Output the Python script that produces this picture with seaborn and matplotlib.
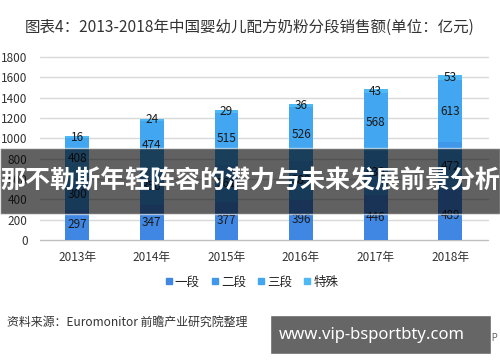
import numpy as np
import pandas as pd
import matplotlib
matplotlib.use("Agg")
import matplotlib.pyplot as plt
import seaborn as sns
from matplotlib.patches import Rectangle
from matplotlib.lines import Line2D

# Data (亿元)
years = ["2013年", "2014年", "2015年", "2016年", "2017年", "2018年"]
stage1 = [297, 347, 377, 396, 446, 489]
stage2 = [300, 350, 361, 383, 430, 472]
stage3 = [408, 474, 515, 526, 568, 613]
special = [16, 24, 29, 36, 43, 53]
series_names = ["一段", "二段", "三段", "特殊"]
colors = ["#3f87e2", "#3f98ea", "#43a6f0", "#4db9f6"]
y_ticks = [0, 200, 400, 600, 800, 1000, 1200, 1400, 1600, 1800]

sns.set_theme(style="white")
plt.rcParams["font.family"] = ["Noto Sans CJK SC", "DejaVu Sans"]

df = pd.DataFrame({"year": years, "一段": stage1, "二段": stage2,
                   "三段": stage3, "特殊": special})
cum = df[series_names].cumsum(axis=1)

fig = plt.figure(figsize=(5, 3.62), dpi=100)
ax = fig.add_axes([0.08, 0.337, 0.895, 0.5055])

# stacked bars: draw cumulative totals from top down
for name, col in reversed(list(zip(series_names, colors))):
    sns.barplot(x=df["year"], y=cum[name], color=col, width=0.32,
                saturation=1, linewidth=0, edgecolor="none", ax=ax, zorder=3)

# segment labels
for i in range(len(years)):
    bottom = 0
    for name in series_names:
        v = df[name][i]
        ax.text(i, bottom + v / 2, str(v), ha="center", va="center",
                fontsize=8.5, color="#1a1a1a", zorder=4)
        bottom += v

ax.set_ylim(0, 1800)
ax.set_xlim(-0.5, 5.5)
ax.set_yticks(y_ticks)
ax.set_yticklabels([str(t) for t in y_ticks], fontsize=8.5, color="#333333")
ax.tick_params(axis="x", labelsize=8.5, colors="#333333", length=0, pad=8)
ax.tick_params(axis="y", length=0, pad=9)
ax.set_xlabel("")
ax.set_ylabel("")
for t in y_ticks:
    ax.axhline(t, color="#bfbfbf" if t == 0 else "#d9d9d9", lw=1,
               zorder=1, clip_on=False)
for s in ax.spines.values():
    s.set_visible(False)

handles = [Line2D([0], [0], marker="s", linestyle="", markersize=5,
                  markerfacecolor=c, markeredgecolor=c) for c in colors]
fig.legend(handles, series_names, loc="center", bbox_to_anchor=(0.502, 0.221),
           ncol=4, frameon=False, fontsize=9, handletextpad=0.1,
           columnspacing=0.8, handlelength=0.8)

fig.text(0.5, 0.925, "图表4：2013-2018年中国婴幼儿配方奶粉分段销售额(单位：亿元)",
         ha="center", va="center", fontsize=11.2, color="#333333")
fig.text(0.014, 0.11, "资料来源：Euromonitor 前瞻产业研究院整理",
         ha="left", va="center", fontsize=8.6, color="#333333")

# overlay banner
fig.patches.append(Rectangle((0, 1 - 214 / 362), 1, 66 / 362,
                             transform=fig.transFigure, facecolor="black",
                             alpha=0.62, zorder=5))
fig.text(0.5, 1 - 181 / 362, "那不勒斯年轻阵容的潜力与未来发展前景分析",
         ha="center", va="center", fontsize=18, fontweight="bold",
         color="white", zorder=6)

# bottom site badge
fig.text(0.996, 1 - 338 / 362, "@前瞻经济学人APP", ha="right", va="center",
         fontsize=7, color="#666666", zorder=4)
fig.patches.append(Rectangle((270 / 500, 1 - 354 / 362), 221 / 500, 39 / 362,
                             transform=fig.transFigure, facecolor="#666666",
                             zorder=5))
fig.text(372 / 500, 1 - 335 / 362, "www.vip-bsportbty.com", ha="center",
         va="center", fontsize=12, fontweight="bold", color="white",
         family=["Noto Sans", "DejaVu Sans"], zorder=6)

fig.savefig("out.png", dpi=100)
